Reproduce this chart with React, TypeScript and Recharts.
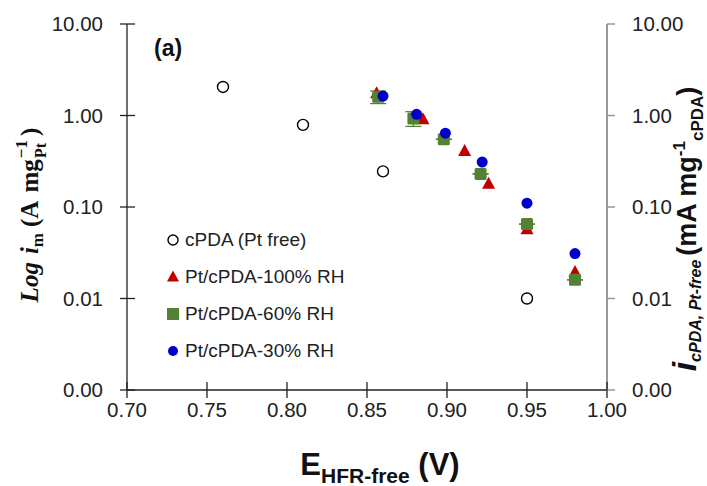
import React from 'react';
import { ScatterChart, Scatter, XAxis, YAxis, ErrorBar, Legend } from 'recharts';

// ---- data ----
const cpdaX = [0.76, 0.81, 0.86, 0.95];
const cpdaY = [2.05, 0.79, 0.245, 0.01];

const rh100X = [0.856, 0.885, 0.911, 0.926, 0.95, 0.98];
const rh100Y = [1.75, 0.91, 0.41, 0.18, 0.057, 0.0195];

const rh60X = [0.857, 0.879, 0.898, 0.921, 0.95, 0.98];
const rh60Y = [1.6, 0.93, 0.55, 0.23, 0.065, 0.016];
const rh60Err = [0.25, 0.17, 0, 0, 0, 0];

const rh30X = [0.86, 0.881, 0.899, 0.922, 0.95, 0.98];
const rh30Y = [1.63, 1.03, 0.64, 0.31, 0.11, 0.031];

const xTicks = [0.7, 0.75, 0.8, 0.85, 0.9, 0.95, 1.0];
const yTicks = [0.001, 0.01, 0.1, 1, 10];

const seriesNames = ['cPDA (Pt free)', 'Pt/cPDA-100% RH', 'Pt/cPDA-60% RH', 'Pt/cPDA-30% RH'];

const RED = '#C00000';
const GREEN = '#548235';
const BLUE = '#0000CC';

const toPts = (xs: number[], ys: number[], errs?: number[]) =>
  xs.map((x, i) => ({ x, y: ys[i], err: errs ? [errs[i], errs[i]] : [0, 0] }));

const cpdaData = toPts(cpdaX, cpdaY);
const rh100Data = toPts(rh100X, rh100Y);
const rh60Data = toPts(rh60X, rh60Y, rh60Err);
const rh30Data = toPts(rh30X, rh30Y);

const SANS = '"Liberation Sans", Arial, sans-serif';
const SERIF = '"Liberation Serif", "Times New Roman", serif';
const TICK_COLOR = '#222';

const X_MARGIN = 12;
const L_MARGIN = 24;

const fmt = (v: number) => v.toFixed(2);

const XTick = (props: any) => {
  const { x, y, payload } = props;
  const ay = y - X_MARGIN;
  return (
    <g>
      <line x1={x} x2={x} y1={ay - 8} y2={ay + 8} stroke="#222" strokeWidth={1.3} />
      <text x={x} y={y} dy="0.72em" textAnchor="middle" fontFamily={SANS} fontSize={20.5} fill={TICK_COLOR}>
        {fmt(payload.value)}
      </text>
    </g>
  );
};

const LTick = (props: any) => {
  const { x, y, payload } = props;
  const ax = x + L_MARGIN;
  return (
    <g>
      <line x1={ax - 7} x2={ax + 8} y1={y} y2={y} stroke="#222" strokeWidth={1.3} />
      <text x={x} y={y} dy="0.36em" textAnchor="end" fontFamily={SANS} fontSize={20.5} fill={TICK_COLOR}>
        {fmt(payload.value)}
      </text>
    </g>
  );
};

const RTick = (props: any) => {
  const { x, y, payload } = props;
  return (
    <text x={x} y={y} dy="0.36em" textAnchor="start" fontFamily={SANS} fontSize={20.5} fill={TICK_COLOR}>
      {fmt(payload.value)}
    </text>
  );
};

const OpenCircle = (p: any) => <circle cx={p.cx} cy={p.cy} r={5.5} fill="#fff" stroke="#000" strokeWidth={1.4} />;
const Triangle = (p: any) => (
  <polygon points={`${p.cx},${p.cy - 7} ${p.cx - 6.5},${p.cy + 5} ${p.cx + 6.5},${p.cy + 5}`} fill={RED} />
);
const Square = (p: any) => <rect x={p.cx - 6} y={p.cy - 6} width={12} height={12} rx={1.5} fill={GREEN} />;
const Dot = (p: any) => <circle cx={p.cx} cy={p.cy} r={5.5} fill={BLUE} />;

const legendMarkers = [
  <circle cx={8} cy={8} r={5} fill="#fff" stroke="#000" strokeWidth={1.4} />,
  <polygon points="8,1.5 2,12.5 14,12.5" fill={RED} />,
  <rect x={2} y={2} width={12} height={12} fill={GREEN} />,
  <circle cx={8} cy={8} r={5} fill={BLUE} />,
];

const renderLegend = () => (
  <div style={{ fontFamily: SANS, fontSize: 19, color: '#222' }}>
    {seriesNames.map((n, i) => (
      <div key={n} style={{ display: 'flex', alignItems: 'center', height: 37 }}>
        <svg width={16} height={16} style={{ display: 'block' }}>
          {legendMarkers[i]}
        </svg>
        <span style={{ marginLeft: 4, whiteSpace: 'nowrap' }}>{n}</span>
      </div>
    ))}
  </div>
);

export default function App() {
  return (
    <div style={{ position: 'absolute', left: 0, top: 0, width: 707, height: 486, background: '#fff' }}>
      <ScatterChart width={707} height={486} margin={{ top: 24, right: 40, bottom: 56, left: 67 }}>
        <XAxis
          type="number"
          dataKey="x"
          domain={[0.7, 1.0]}
          ticks={xTicks}
          height={40}
          tickSize={0}
          tickMargin={X_MARGIN}
          tickLine={false}
          tick={<XTick />}
          axisLine={{ stroke: '#222', strokeWidth: 1.5 }}
          allowDataOverflow
        />
        <YAxis
          yAxisId="left"
          type="number"
          dataKey="y"
          scale="log"
          domain={[0.001, 10]}
          ticks={yTicks}
          width={60}
          tickSize={0}
          tickMargin={L_MARGIN}
          tickLine={false}
          tick={<LTick />}
          axisLine={{ stroke: '#222', strokeWidth: 1.3 }}
          allowDataOverflow
        />
        <YAxis
          yAxisId="right"
          orientation="right"
          type="number"
          dataKey="y"
          scale="log"
          domain={[0.001, 10]}
          ticks={yTicks}
          width={60}
          tickSize={8}
          tickMargin={17}
          tickLine={{ stroke: '#999', strokeWidth: 1.5 }}
          tick={<RTick />}
          axisLine={{ stroke: '#999', strokeWidth: 2 }}
          allowDataOverflow
        />
        <Legend
          layout="vertical"
          align="center"
          verticalAlign="middle"
          content={renderLegend}
          wrapperStyle={{ left: 165, top: 221, width: 220, height: 150 }}
        />
        <Scatter name={seriesNames[0]} yAxisId="left" data={cpdaData} shape={OpenCircle} isAnimationActive={false} />
        <Scatter name={seriesNames[1]} yAxisId="left" data={rh100Data} shape={Triangle} isAnimationActive={false} />
        <Scatter name={seriesNames[2]} yAxisId="left" data={rh60Data} shape={Square} isAnimationActive={false}>
          <ErrorBar dataKey="err" direction="y" width={8} stroke={GREEN} strokeWidth={1.3} />
        </Scatter>
        <Scatter name={seriesNames[3]} yAxisId="left" data={rh30Data} shape={Dot} isAnimationActive={false} />
      </ScatterChart>
      <svg width={707} height={486} style={{ position: 'absolute', left: 0, top: 0, pointerEvents: 'none' }}>
        <text x={154} y={56} fontFamily={SANS} fontWeight="bold" fontSize={23} fill="#111">(a)</text>
        {/* left axis label */}
        <text transform="translate(38,215) rotate(-90)" textAnchor="middle" fontFamily={SERIF} fontWeight="bold" fontSize={25} fill="#111">
          <tspan fontStyle="italic">Log</tspan>
          <tspan fontStyle="italic" dx={8}>i</tspan>
          <tspan fontSize={17} dy={5}>m</tspan>
          <tspan dx={6} dy={-5}>(A</tspan>
          <tspan dx={8}>mg</tspan>
          <tspan fontSize={17} dx={1} dy={-11}>−1</tspan>
          <tspan fontSize={16} dx={-18} dy={19}>Pt</tspan>
          <tspan dx={7} dy={-8}>)</tspan>
        </text>
        {/* right axis label */}
        <text transform="translate(696,229) rotate(-90)" textAnchor="middle" fontFamily={SANS} fontWeight="bold" fontSize={27} fill="#111">
          <tspan fontStyle="italic" fontSize={34}>i</tspan>
          <tspan fontStyle="italic" fontSize={16} dy={5}>cPDA, Pt-free</tspan>
          <tspan dx={4} dy={-5}>(mA mg</tspan>
          <tspan fontSize={17} dy={-11}>-1</tspan>
          <tspan fontSize={17} dy={18}>cPDA</tspan>
          <tspan dy={-7}>)</tspan>
        </text>
        {/* x axis label */}
        <text x={380} y={475} textAnchor="middle" fontFamily={SANS} fontWeight="bold" fontSize={31} fill="#111">
          <tspan>E</tspan>
          <tspan fontSize={21} dy={8}>HFR-free</tspan>
          <tspan dy={-8}>{' (V)'}</tspan>
        </text>
      </svg>
    </div>
  );
}
